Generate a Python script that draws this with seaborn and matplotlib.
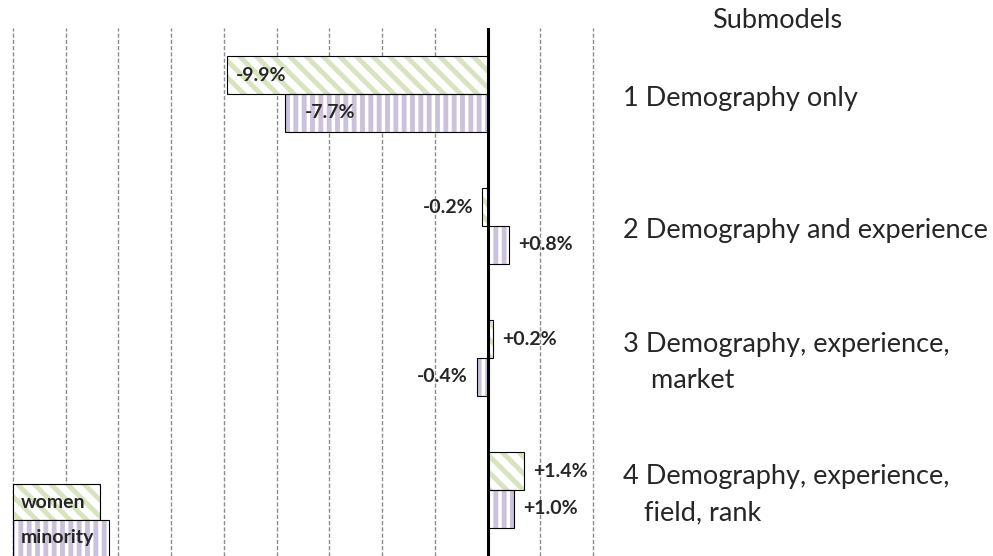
import matplotlib
matplotlib.use("Agg")
import matplotlib.pyplot as plt
import matplotlib.transforms as mtransforms
from matplotlib.patches import Rectangle
import pandas as pd
import seaborn as sns

# Data
submodels = ["1 Demography only",
             "2 Demography and experience",
             "3 Demography, experience, market",
             "4 Demography, experience, field, rank"]
# how the submodel names are broken over lines on the right
submodel_lines = [["1 Demography only"],
                  ["2 Demography and experience"],
                  ["3 Demography, experience,", "    market"],
                  ["4 Demography, experience,", "   field, rank"]]
groups = ["women", "minority"]
women = [-9.9, -0.2, 0.2, 1.4]
minority = [-7.7, 0.8, -0.4, 1.0]

colors = {"women": "#d7e4bd", "minority": "#ccc1da"}
hatches = {"women": "\\\\", "minority": "||"}

sns.set_theme(style="white")
plt.rcParams["font.family"] = ["Lato", "DejaVu Sans"]
plt.rcParams["hatch.linewidth"] = 3.5

df = pd.DataFrame({
    "submodel": submodels * 2,
    "group": ["women"] * len(women) + ["minority"] * len(minority),
    "value": women + minority,
})

W, H = 993, 556
fig = plt.figure(figsize=(W / 100, H / 100), dpi=100)
ax = fig.add_axes([13 / W, 0, (593 - 13) / W, (H - 28) / H])

sns.barplot(data=df, x="value", y="submodel", hue="group", hue_order=groups,
            order=submodels, orient="h", width=0.57, palette=colors,
            saturation=1, errorbar=None, legend=False, ax=ax)

ax.set_xlim(-18, 4)
ax.set_ylim(len(submodels) - 0.5, -0.5)
ax.set_axis_off()

# turn the coloured bars into hatched bars with a black outline
hex_to_group = {matplotlib.colors.to_hex(c): g for g, c in colors.items()}
bars = list(ax.patches)
for p in bars:
    g = hex_to_group[matplotlib.colors.to_hex(p.get_facecolor())]
    p.set_facecolor("white")
    p.set_edgecolor(colors[g])
    p.set_hatch(hatches[g])
    p.set_linewidth(0)
    p.set_zorder(2)
    ax.add_patch(Rectangle((p.get_x(), p.get_y()), p.get_width(), p.get_height(),
                           fill=False, edgecolor="black", lw=0.8, zorder=3))
    v = p.get_width()
    yc = p.get_y() + p.get_height() / 2
    label = f"{v:+.1f}%"
    if abs(v) > 5:
        pad = 9 if g == "women" else 20
        ax.annotate(label, (v, yc), xytext=(pad, 0), textcoords="offset pixels",
                    ha="left", va="center", fontsize=14, fontweight="bold", zorder=6)
    elif v >= 0:
        ax.annotate(label, (v, yc), xytext=(9, 0), textcoords="offset pixels",
                    ha="left", va="center", fontsize=14, fontweight="bold", zorder=6)
    else:
        ax.annotate(label, (v, yc), xytext=(-9, 0), textcoords="offset pixels",
                    ha="right", va="center", fontsize=14, fontweight="bold", zorder=6)

# dashed vertical grid and thick zero line
for x in range(-18, 5, 2):
    if x != 0:
        ax.axvline(x, color="#8c8c8c", lw=1, ls=(0, (3, 1.5)), zorder=0, clip_on=False)
ax.axvline(0, color="black", lw=2.2, zorder=5)

# submodel names on the right
blend = mtransforms.blended_transform_factory(fig.transFigure, ax.transData)
fig.text(712 / W, (H - 28) / H, "Submodels", fontsize=19.5, va="baseline", ha="left")
for i, lines in enumerate(submodel_lines):
    if len(lines) == 1:
        offsets = [-12]
    else:
        offsets = [6, -30]
    for line, dy in zip(lines, offsets):
        ax.annotate(line, (623 / W, i), xycoords=blend, xytext=(0, dy),
                    textcoords="offset pixels", ha="left", va="baseline",
                    fontsize=19.5, annotation_clip=False)

# legend drawn as little hatched boxes with the name inside
legend_boxes = {"women": (13, 484, 87, 36), "minority": (13, 520, 96, 38)}
for g in groups:
    x0, y0, w, h = legend_boxes[g]
    rect = dict(xy=(x0 / W, (H - y0 - h) / H), width=w / W, height=h / H,
                transform=fig.transFigure)
    fig.patches.append(Rectangle(**rect, facecolor="white", edgecolor=colors[g],
                                 hatch=hatches[g], lw=0))
    fig.patches.append(Rectangle(**rect, fill=False, edgecolor="black", lw=0.8))
    fig.text((x0 + 8) / W, (H - y0 - 18) / H, g, fontsize=14, fontweight="bold",
             ha="left", va="center")

fig.savefig("out.png", dpi=100)
